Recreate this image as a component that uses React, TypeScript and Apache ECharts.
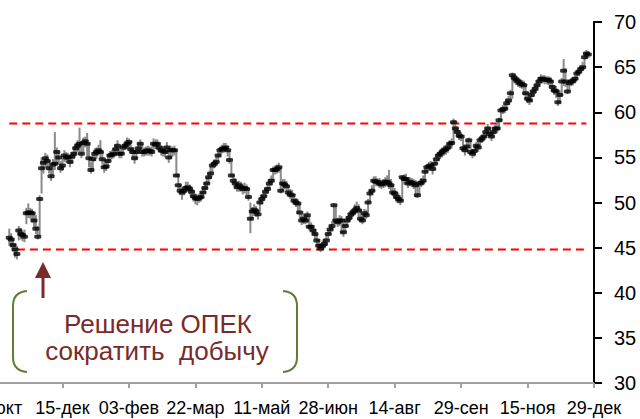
import React, { useEffect, useRef } from "react";
import * as echarts from "echarts";

// Category axis: trading days, tick label every 35 days
const dayCount = 316;
const dayIndex = Array.from({ length: dayCount }, (_, i) => String(i));
const tickLabels = ["26-окт", "15-дек", "03-фев", "22-мар", "11-май", "28-июн", "14-авг", "29-сен", "15-ноя", "29-дек"];
const tickStep = 35;
const startIndex = 7;

const closes = [
  46.1, 45.9, 45.3, 44.8, 44.3, 46.9, 46.5, 46.4, 46.2, 48.8,
  48.9, 48.9, 48.8, 48.0, 47.1, 46.2, 50.4, 53.8, 54.4, 54.9,
  54.6, 53.8, 52.9, 54.2, 54.3, 55.6, 55.0, 53.8, 54.1, 55.2,
  55.0, 55.0, 54.5, 55.1, 55.4, 56.0, 56.3, 56.5, 55.4, 56.6,
  56.8, 56.5, 54.9, 53.6, 54.8, 55.4, 55.6, 55.8, 55.6, 54.8,
  53.9, 54.0, 54.6, 55.2, 55.3, 55.4, 55.9, 56.3, 55.4, 55.4,
  56.1, 56.3, 56.5, 56.7, 55.9, 55.6, 54.9, 55.6, 56.0, 56.5,
  55.6, 55.6, 55.7, 55.8, 55.7, 55.6, 56.5, 56.4, 56.5, 56.1,
  55.8, 55.7, 55.6, 56.1, 55.0, 55.8, 55.8, 55.8, 53.0, 51.9,
  51.3, 51.1, 51.3, 51.6, 51.7, 51.5, 51.2, 50.7, 50.5, 50.4,
  50.5, 50.6, 51.1, 51.6, 52.1, 52.8, 53.2, 54.1, 54.3, 54.5,
  55.2, 55.8, 55.9, 56.0, 56.1, 55.8, 54.7, 53.0, 52.4, 52.1,
  51.7, 51.9, 51.7, 51.5, 51.6, 51.5, 50.6, 48.2, 49.0, 49.2,
  49.0, 48.7, 50.0, 50.4, 50.7, 51.2, 51.5, 52.1, 52.4, 53.6,
  53.6, 53.7, 53.9, 51.3, 52.1, 52.0, 51.8, 51.1, 50.9, 50.8,
  50.2, 50.0, 49.9, 48.9, 48.0, 48.2, 48.0, 48.6, 47.3, 47.3,
  46.9, 46.5, 45.8, 45.2, 44.9, 45.2, 45.4, 45.8, 46.5, 47.0,
  47.4, 49.7, 48.0, 47.8, 48.0, 48.0, 46.7, 47.4, 48.0, 48.3,
  48.7, 48.9, 49.1, 49.4, 49.1, 48.2, 48.0, 48.8, 48.6, 50.0,
  51.0, 51.3, 52.4, 52.3, 52.3, 52.1, 52.0, 52.1, 52.3, 52.3,
  52.1, 51.9, 51.1, 51.0, 50.6, 50.4, 50.2, 52.8, 52.6, 52.6,
  52.1, 52.3, 52.2, 52.1, 51.9, 50.8, 52.1, 52.2, 52.4, 53.4,
  53.9, 54.0, 54.1, 53.7, 54.3, 54.8, 55.2, 55.4, 55.6, 55.8,
  55.9, 56.1, 56.5, 56.6, 58.9, 58.2, 57.8, 57.4, 57.3, 56.0,
  55.8, 56.2, 56.9, 55.6, 55.4, 55.7, 56.3, 56.1, 56.9, 57.1,
  57.3, 57.8, 58.2, 57.6, 57.3, 57.8, 58.2, 58.2, 59.1, 60.2,
  60.3, 60.4, 61.0, 61.3, 62.1, 64.1, 63.8, 63.6, 63.4, 63.2,
  63.1, 63.0, 62.1, 61.5, 61.3, 61.9, 62.3, 62.6, 63.0, 63.4,
  63.7, 63.7, 63.6, 63.6, 63.6, 63.4, 62.8, 62.4, 62.3, 61.1,
  61.9, 63.4, 64.6, 63.4, 62.3, 63.2, 63.4, 63.5, 63.7, 64.3,
  64.5, 64.8, 65.0, 66.1, 66.5, 66.4,
];

const highs = [
  47.1, 46.6, 46.0, 45.4, 45.2, 47.4, 47.2, 46.9, 47.0, 49.4,
  49.9, 49.4, 49.3, 48.9, 48.6, 47.4, 50.8, 55.0, 54.9, 55.5,
  55.3, 54.7, 54.0, 54.8, 57.8, 56.1, 55.7, 54.6, 54.9, 55.8,
  55.6, 55.5, 55.3, 55.6, 56.2, 56.6, 56.9, 58.3, 56.4, 57.2,
  57.3, 57.7, 56.6, 54.5, 55.3, 56.0, 56.1, 56.4, 56.9, 55.7,
  54.8, 54.7, 55.3, 55.7, 55.8, 56.0, 56.4, 56.9, 56.2, 55.9,
  56.5, 56.8, 57.2, 57.1, 56.8, 56.1, 55.6, 56.0, 56.6, 57.0,
  56.5, 56.1, 56.2, 56.3, 56.2, 56.2, 57.1, 57.0, 57.0, 56.6,
  56.3, 56.2, 56.1, 56.7, 56.2, 56.3, 56.2, 56.3, 55.9, 53.2,
  52.1, 51.7, 51.8, 52.3, 52.3, 52.0, 51.8, 51.4, 51.0, 50.9,
  51.0, 51.2, 51.7, 52.2, 52.8, 53.3, 54.0, 54.5, 54.8, 55.1,
  55.6, 56.2, 56.4, 56.6, 56.6, 56.3, 55.8, 54.5, 53.2, 52.7,
  52.3, 52.4, 52.3, 52.1, 52.2, 52.0, 51.6, 50.0, 49.5, 49.8,
  49.6, 49.3, 50.5, 50.9, 51.2, 51.7, 52.0, 52.6, 53.0, 54.0,
  54.1, 54.2, 54.4, 53.9, 52.6, 52.6, 52.4, 51.9, 51.5, 51.4,
  50.9, 50.5, 50.4, 49.9, 48.7, 48.8, 48.6, 49.0, 48.5, 47.8,
  47.5, 47.1, 46.6, 45.9, 45.5, 45.8, 46.0, 46.5, 47.0, 47.5,
  47.9, 49.9, 49.6, 48.3, 48.6, 48.5, 47.9, 47.9, 48.5, 48.8,
  49.2, 49.4, 49.8, 50.1, 49.8, 49.3, 48.6, 49.3, 49.2, 50.4,
  51.4, 51.9, 52.9, 52.9, 52.7, 52.7, 52.5, 52.6, 52.8, 53.0,
  53.6, 52.6, 52.0, 51.6, 51.3, 51.0, 50.8, 53.0, 53.1, 53.2,
  52.8, 52.8, 52.7, 52.6, 52.5, 52.0, 52.4, 52.7, 53.0, 53.8,
  54.3, 54.5, 54.6, 54.4, 54.7, 55.2, 55.6, 55.9, 56.1, 56.3,
  56.4, 56.6, 56.9, 57.1, 59.3, 59.1, 58.4, 58.0, 57.8, 57.2,
  56.3, 56.9, 57.2, 56.9, 55.9, 56.2, 56.7, 56.7, 57.3, 57.5,
  57.8, 58.3, 58.7, 58.4, 57.9, 58.3, 58.7, 58.9, 59.4, 60.6,
  60.8, 60.9, 61.5, 61.8, 62.5, 64.4, 64.3, 64.1, 63.9, 63.7,
  63.6, 63.5, 63.1, 62.3, 61.9, 62.4, 62.8, 63.1, 63.5, 63.9,
  64.2, 64.1, 64.1, 64.0, 64.0, 63.9, 63.6, 63.0, 62.9, 62.6,
  62.4, 63.8, 65.9, 64.9, 63.4, 63.6, 63.8, 63.9, 64.1, 64.7,
  64.9, 65.2, 65.6, 66.6, 66.9, 66.8,
];

const lows = [
  45.2, 45.0, 44.6, 43.9, 43.7, 45.8, 45.9, 45.7, 45.6, 47.6,
  48.3, 48.2, 47.8, 47.2, 46.5, 45.9, 46.3, 51.0, 53.2, 53.9,
  53.9, 53.2, 52.4, 53.0, 53.6, 54.3, 54.2, 53.3, 53.5, 54.5,
  54.4, 54.4, 53.9, 54.4, 54.8, 55.2, 55.6, 55.6, 54.9, 55.6,
  56.1, 55.1, 53.9, 53.2, 53.5, 54.6, 54.9, 55.2, 54.9, 54.2,
  53.3, 53.5, 53.8, 54.6, 54.8, 54.9, 55.1, 55.5, 54.9, 54.9,
  55.3, 55.8, 55.9, 56.0, 55.4, 54.9, 54.3, 54.8, 55.4, 55.8,
  55.1, 55.1, 55.2, 55.2, 55.2, 55.1, 55.7, 55.9, 55.8, 55.5,
  55.2, 55.1, 55.0, 55.4, 54.4, 54.9, 55.1, 55.2, 52.8, 51.5,
  50.8, 50.3, 50.8, 51.1, 51.2, 50.9, 50.5, 50.1, 49.8, 49.7,
  50.0, 50.1, 50.5, 51.0, 51.4, 52.1, 52.6, 53.3, 53.8, 54.0,
  54.5, 55.1, 55.4, 55.5, 55.6, 55.1, 54.3, 52.8, 52.0, 51.6,
  51.2, 51.2, 51.2, 50.9, 51.0, 50.8, 50.2, 46.6, 48.1, 48.5,
  48.4, 48.1, 49.0, 49.8, 50.2, 50.6, 51.0, 51.5, 51.9, 52.3,
  53.1, 53.2, 53.3, 51.0, 51.3, 51.5, 51.2, 50.6, 50.4, 50.2,
  49.7, 49.5, 48.7, 48.2, 47.5, 47.6, 47.6, 47.7, 46.9, 46.8,
  46.4, 45.9, 45.1, 44.7, 44.5, 44.7, 44.9, 45.2, 45.8, 46.4,
  46.9, 47.6, 47.6, 47.3, 47.4, 46.6, 46.2, 46.7, 47.3, 47.8,
  48.1, 48.4, 48.6, 48.8, 48.4, 47.8, 47.6, 48.0, 48.2, 48.6,
  50.0, 50.9, 51.2, 51.8, 51.8, 51.6, 51.5, 51.6, 51.7, 51.8,
  51.5, 51.3, 50.7, 50.4, 50.0, 49.9, 49.7, 50.2, 52.0, 52.0,
  51.6, 51.8, 51.7, 51.5, 50.6, 50.5, 50.8, 51.7, 51.9, 52.3,
  53.3, 53.5, 53.6, 53.1, 53.6, 54.2, 54.6, 54.8, 55.0, 55.2,
  55.3, 55.5, 55.9, 56.0, 56.6, 57.7, 57.2, 56.9, 56.8, 55.7,
  55.2, 55.6, 56.0, 55.3, 54.9, 55.1, 55.6, 55.6, 56.1, 56.6,
  56.8, 57.2, 57.6, 57.2, 56.8, 57.2, 57.6, 57.7, 58.1, 59.0,
  59.8, 59.9, 60.3, 60.8, 61.4, 61.5, 63.2, 63.0, 62.8, 62.7,
  62.6, 61.9, 61.5, 61.0, 60.8, 61.2, 61.7, 62.0, 62.4, 62.9,
  63.2, 63.2, 63.1, 63.1, 63.0, 62.8, 62.3, 61.9, 61.6, 60.7,
  61.0, 61.8, 62.9, 62.8, 62.0, 62.3, 62.9, 63.0, 63.2, 63.6,
  64.0, 64.4, 64.6, 64.9, 65.9, 66.0,
];

// Horizontal reference levels: [fromIndex, toIndex, value]
const upperLevel = [7, 311, 58.75];
const lowerLevel = [11, 311, 44.8];

const annotationLines = ["Решение ОПЕК", "сократить  добычу"];

const MAROON = "#782b2b";
const OLIVE = "#5f7d35";

export default function App() {
  const ref = useRef<HTMLDivElement>(null);

  useEffect(() => {
    if (!ref.current) return;
    try {
      echarts.graphic.registerShape(
        "bracketL",
        echarts.graphic.extendPath("M14,0 Q0,1 0,15 L0,66 Q0,80 14,81", {}) as any
      );
      echarts.graphic.registerShape(
        "bracketR",
        echarts.graphic.extendPath("M0,0 Q14,1 14,15 L14,66 Q14,80 0,81", {}) as any
      );
    } catch (e) {}
    const chart = echarts.init(ref.current, undefined, { renderer: "svg" });

    const closeData = closes.map((c, k) => [k + startIndex, c]);
    const hlData = highs.map((h, k) => [k + startIndex, lows[k], h]);

    chart.setOption({
      animation: false,
      backgroundColor: "#ffffff",
      grid: {
        left: -4,
        right: 46,
        top: 22,
        bottom: 36,
        containLabel: false,
        outerBoundsMode: "none",
      },
      xAxis: {
        type: "category",
        data: dayIndex,
        boundaryGap: false,
        axisLine: { show: true, lineStyle: { color: "#a0a0a0", width: 2 } },
        axisTick: { show: true, interval: tickStep - 1, length: 5, lineStyle: { color: "#a0a0a0", width: 2 } },
        axisLabel: {
          interval: tickStep - 1,
          margin: 16,
          fontSize: 18,
          color: "#000",
          hideOverlap: false,
          fontFamily: "Liberation Sans, Arial, sans-serif",
          formatter: (_v: string, idx: number) =>
            idx % tickStep === 0 ? tickLabels[idx / tickStep] ?? "" : "",
        },
        splitLine: { show: false },
      },
      yAxis: {
        type: "value",
        position: "right",
        min: 30,
        max: 70,
        interval: 5,
        axisLine: { show: true, lineStyle: { color: "#000", width: 2 } },
        axisTick: { show: true, inside: false, length: 8, lineStyle: { color: "#000", width: 2 } },
        axisLabel: {
          margin: 20,
          fontSize: 20,
          color: "#000",
          fontFamily: "Liberation Sans Narrow, Arial Narrow, Liberation Sans, sans-serif",
        },
        splitLine: { show: false },
      },
      series: [
        {
          type: "line",
          data: [[upperLevel[0], upperLevel[2]], [upperLevel[1], upperLevel[2]]],
          symbol: "none",
          lineStyle: { color: "#ff0000", width: 2, type: [8, 5] },
          z: 1,
          silent: true,
        },
        {
          type: "line",
          data: [[lowerLevel[0], lowerLevel[2]], [lowerLevel[1], lowerLevel[2]]],
          symbol: "none",
          lineStyle: { color: "#ff0000", width: 2, type: [8, 5] },
          z: 1,
          silent: true,
        },
        {
          type: "custom",
          data: hlData,
          encode: { x: 0, y: [1, 2] },
          z: 2,
          renderItem: (_params: any, api: any) => {
            const x = api.value(0);
            const lo = api.coord([x, api.value(1)]);
            const hi = api.coord([x, api.value(2)]);
            return {
              type: "line",
              shape: { x1: lo[0], y1: lo[1], x2: hi[0], y2: hi[1] },
              style: { stroke: "#8a8a8a", lineWidth: 2 },
            };
          },
        },
        {
          type: "scatter",
          data: closeData,
          symbol: "roundRect",
          symbolSize: [7, 4],
          itemStyle: { color: "#000" },
          z: 3,
        },
      ],
      graphic: [
        {
          type: "line",
          shape: { x1: 43, y1: 274, x2: 43, y2: 298 },
          style: { stroke: MAROON, lineWidth: 3 },
        },
        {
          type: "polygon",
          shape: { points: [[43, 262], [35, 278], [51, 278]] },
          style: { fill: MAROON },
        },
        {
          type: "bracketL",
          x: 13,
          y: 291,
          style: { stroke: OLIVE, lineWidth: 2, fill: "none" },
        },
        {
          type: "bracketR",
          x: 283,
          y: 291,
          style: { stroke: OLIVE, lineWidth: 2, fill: "none" },
        },
        {
          type: "text",
          x: 158,
          y: 324,
          style: {
            text: annotationLines[0],
            fill: MAROON,
            fontSize: 26,
            lineHeight: 26,
            fontFamily: "Liberation Sans, Arial, sans-serif",
            align: "center",
            verticalAlign: "middle",
          },
        },
        {
          type: "text",
          x: 157,
          y: 351,
          style: {
            text: annotationLines[1],
            fill: MAROON,
            fontSize: 26,
            lineHeight: 26,
            fontFamily: "Liberation Sans, Arial, sans-serif",
            align: "center",
            verticalAlign: "middle",
          },
        },
      ],
    });

    return () => chart.dispose();
  }, []);

  return (
    <div
      ref={ref}
      style={{ position: "fixed", left: 0, top: 0, width: 640, height: 419, background: "#fff" }}
    />
  );
}
